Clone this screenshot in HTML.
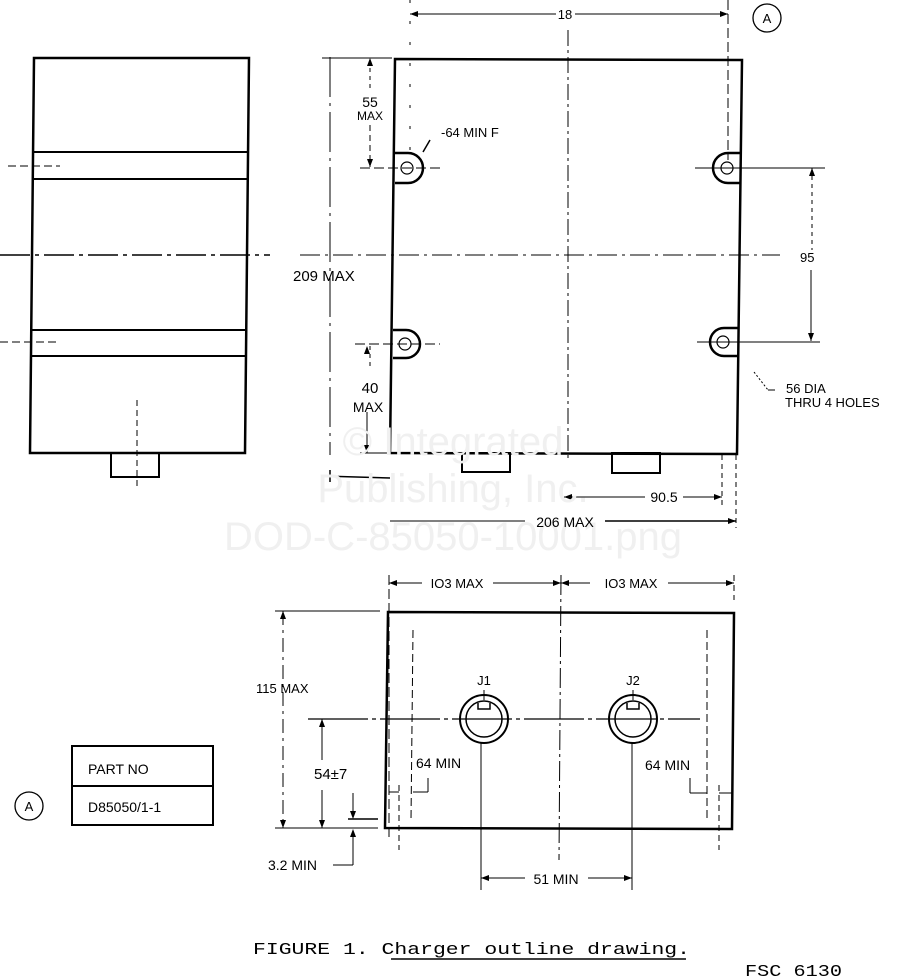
<!DOCTYPE html>
<html><head><meta charset="utf-8"><style>
html,body{margin:0;padding:0;background:#fff;}
svg{display:block;}
text{font-family:"Liberation Sans",sans-serif;fill:#000;}
.m{font-family:"Liberation Mono",monospace;}
</style></head><body>
<svg width="908" height="980" viewBox="0 0 908 980" xmlns="http://www.w3.org/2000/svg">
<g fill="none" stroke="#000">
<!-- LEFT VIEW -->
<path d="M34 58 L249 58 L245 453 L30 453 Z" stroke-width="2.5"/>
<line x1="33" y1="152" x2="248" y2="152" stroke-width="2"/>
<line x1="33" y1="179" x2="248" y2="179" stroke-width="2"/>
<line x1="31" y1="330" x2="246" y2="330" stroke-width="2"/>
<line x1="31" y1="356" x2="246" y2="356" stroke-width="2"/>
<line x1="0" y1="255" x2="270" y2="255" stroke-width="1.5" stroke-dasharray="30 5 4 5"/>
<line x1="8" y1="166" x2="60" y2="166" stroke-width="1" stroke-dasharray="8 4"/>
<line x1="0" y1="342" x2="60" y2="342" stroke-width="1" stroke-dasharray="8 4"/>
<rect x="111" y="453" width="48" height="24" stroke-width="2"/>
<line x1="137" y1="400" x2="137" y2="490" stroke-width="1" stroke-dasharray="6 4"/>

<!-- FRONT VIEW -->
<path d="M395 59 L742 60 L737 454 L390 453 Z" stroke-width="2.5"/>
<line x1="568" y1="30" x2="568" y2="460" stroke-width="1" stroke-dasharray="16 4 3 4"/>
<line x1="300" y1="255" x2="780" y2="255" stroke-width="1" stroke-dasharray="20 5 3 5"/>
<path d="M395 153 L408 153 A15 15 0 0 1 408 183 L395 183" stroke-width="2.5"/>
<circle cx="407" cy="168" r="6" stroke-width="1.2"/>
<path d="M741 153 L728 153 A15 15 0 0 0 728 183 L741 183" stroke-width="2.5"/>
<circle cx="727" cy="168" r="6" stroke-width="1.2"/>
<path d="M393 330 L406 330 A14 14 0 0 1 406 358 L393 358" stroke-width="2.5"/>
<circle cx="405" cy="344" r="6" stroke-width="1.2"/>
<path d="M738 328 L724 328 A14 14 0 0 0 724 356 L738 356" stroke-width="2.5"/>
<circle cx="723" cy="342" r="6" stroke-width="1.2"/>
<line x1="360" y1="168" x2="440" y2="168" stroke-width="1" stroke-dasharray="10 4"/>
<line x1="695" y1="168" x2="825" y2="168" stroke-width="1"/>
<line x1="355" y1="344" x2="440" y2="344" stroke-width="1" stroke-dasharray="10 4"/>
<line x1="697" y1="342" x2="820" y2="342" stroke-width="1"/>
<line x1="728" y1="0" x2="728" y2="160" stroke-width="1" stroke-dasharray="10 4"/>
<line x1="410" y1="0" x2="410" y2="150" stroke-width="1" stroke-dasharray="3 18"/>
<line x1="423" y1="152" x2="430" y2="140" stroke-width="1.5"/>
<rect x="462" y="453" width="48" height="19" stroke-width="2"/>
<rect x="612" y="453" width="48" height="20" stroke-width="2"/>
<line x1="410" y1="14" x2="556" y2="14" stroke-width="1"/>
<line x1="575" y1="14" x2="728" y2="14" stroke-width="1"/>
<line x1="330" y1="57" x2="330" y2="455" stroke-width="1" stroke-dasharray="40 6 3 6"/>
<line x1="322" y1="476" x2="390" y2="478" stroke-width="1.5"/>
<line x1="330" y1="470" x2="330" y2="482" stroke-width="1.5"/>
<line x1="322" y1="58" x2="392" y2="58" stroke-width="1"/>
<line x1="370" y1="60" x2="370" y2="92" stroke-width="1" stroke-dasharray="4 4"/>
<line x1="370" y1="125" x2="370" y2="167" stroke-width="1" stroke-dasharray="6 4"/>
<line x1="370" y1="346" x2="370" y2="370" stroke-width="1" stroke-dasharray="4 4"/>
<line x1="367" y1="412" x2="367" y2="453" stroke-width="1"/>
<line x1="360" y1="453" x2="390" y2="453" stroke-width="1"/>
<line x1="812" y1="168" x2="812" y2="250" stroke-width="1" stroke-dasharray="4 4"/>
<line x1="811" y1="270" x2="811" y2="341" stroke-width="1"/>
<line x1="754" y1="372" x2="768" y2="390" stroke-width="1" stroke-dasharray="2 2"/>
<line x1="768" y1="390" x2="775" y2="390" stroke-width="1"/>
<line x1="564" y1="497" x2="645" y2="497" stroke-width="1"/>
<line x1="683" y1="497" x2="722" y2="497" stroke-width="1"/>
<line x1="722" y1="455" x2="722" y2="505" stroke-width="1" stroke-dasharray="5 4"/>
<line x1="736" y1="455" x2="736" y2="528" stroke-width="1" stroke-dasharray="5 4"/>
<line x1="390" y1="521" x2="525" y2="521" stroke-width="1"/>
<line x1="605" y1="521" x2="736" y2="521" stroke-width="1.5"/>
<circle cx="767" cy="18" r="14" stroke-width="1.3"/>

<!-- BOTTOM VIEW -->
<path d="M388 612 L734 613 L732 829 L385 828 Z" stroke-width="2.5"/>
<line x1="389" y1="575" x2="389" y2="840" stroke-width="1" stroke-dasharray="10 4"/>
<line x1="734" y1="575" x2="734" y2="600" stroke-width="1" stroke-dasharray="6 4"/>
<line x1="561" y1="575" x2="559" y2="860" stroke-width="1" stroke-dasharray="20 4 3 4"/>
<line x1="389" y1="583" x2="422" y2="583" stroke-width="1"/>
<line x1="493" y1="583" x2="590" y2="583" stroke-width="1"/>
<line x1="668" y1="583" x2="734" y2="583" stroke-width="1"/>
<line x1="275" y1="611" x2="380" y2="611" stroke-width="1"/>
<line x1="283" y1="611" x2="283" y2="828" stroke-width="1" stroke-dasharray="14 5 3 5"/>
<line x1="275" y1="828" x2="378" y2="828" stroke-width="1"/>
<line x1="308" y1="719" x2="700" y2="719" stroke-width="1.2" stroke-dasharray="60 4 4 4"/>
<line x1="322" y1="719" x2="322" y2="760" stroke-width="1"/>
<line x1="322" y1="790" x2="322" y2="828" stroke-width="1"/>
<line x1="348" y1="819" x2="378" y2="819" stroke-width="1.5"/>
<line x1="353" y1="793" x2="353" y2="817" stroke-width="1"/>
<line x1="353" y1="831" x2="353" y2="865" stroke-width="1"/>
<line x1="333" y1="865" x2="353" y2="865" stroke-width="1"/>
<circle cx="484" cy="719" r="24" stroke-width="2"/>
<circle cx="484" cy="719" r="18" stroke-width="1.5"/>
<path d="M478 703 L478 709 L490 709 L490 703" stroke-width="1.5"/>
<circle cx="633" cy="719" r="24" stroke-width="2"/>
<circle cx="633" cy="719" r="18" stroke-width="1.5"/>
<path d="M627 703 L627 709 L639 709 L639 703" stroke-width="1.5"/>
<line x1="481" y1="743" x2="481" y2="890" stroke-width="1"/>
<line x1="632" y1="743" x2="632" y2="890" stroke-width="1"/>
<line x1="484" y1="690" x2="484" y2="700" stroke-width="1"/>
<line x1="633" y1="690" x2="633" y2="700" stroke-width="1"/>
<line x1="481" y1="878" x2="525" y2="878" stroke-width="1"/>
<line x1="588" y1="878" x2="632" y2="878" stroke-width="1"/>
<line x1="413" y1="630" x2="411" y2="820" stroke-width="1" stroke-dasharray="8 4"/>
<line x1="399" y1="785" x2="399" y2="850" stroke-width="1" stroke-dasharray="6 4"/>
<line x1="389" y1="792" x2="399" y2="792" stroke-width="1"/>
<line x1="413" y1="792" x2="428" y2="792" stroke-width="1"/>
<line x1="428" y1="778" x2="428" y2="792" stroke-width="1"/>
<line x1="707" y1="630" x2="707" y2="820" stroke-width="1" stroke-dasharray="8 4"/>
<line x1="719" y1="785" x2="719" y2="850" stroke-width="1" stroke-dasharray="6 4"/>
<line x1="690" y1="793" x2="707" y2="793" stroke-width="1"/>
<line x1="690" y1="778" x2="690" y2="793" stroke-width="1"/>
<line x1="719" y1="793" x2="732" y2="793" stroke-width="1"/>

<rect x="72" y="746" width="141" height="79" stroke-width="2"/>
<line x1="72" y1="786" x2="213" y2="786" stroke-width="2"/>
<circle cx="29" cy="806" r="14" stroke-width="1.3"/>
<line x1="391" y1="959" x2="686" y2="959" stroke-width="1.5"/>
</g>
<g fill="#000">
<polygon points="410,14 418,11 418,17"/><polygon points="728,14 720,11 720,17"/>
<polygon points="370,58 367,66 373,66"/><polygon points="370,167 367,159 373,159"/>
<polygon points="367,346 364,354 370,354"/><polygon points="367,453 364,445 370,445"/>
<polygon points="812,168 809,176 815,176"/><polygon points="811,341 808,333 814,333"/>
<polygon points="564,497 572,494 572,500"/><polygon points="722,497 714,494 714,500"/>
<polygon points="736,521 728,518 728,524"/>
<polygon points="389,583 397,580 397,586"/><polygon points="734,583 726,580 726,586"/>
<polygon points="561,583 553,580 553,586"/><polygon points="561,583 569,580 569,586"/>
<polygon points="283,611 280,619 286,619"/><polygon points="283,828 280,820 286,820"/>
<polygon points="322,719 319,727 325,727"/><polygon points="322,828 319,820 325,820"/>
<polygon points="353,819 350,811 356,811"/><polygon points="353,829 350,837 356,837"/>
<polygon points="481,878 489,875 489,881"/><polygon points="632,878 624,875 624,881"/>
</g>
<g font-size="40" text-anchor="middle">
<text x="453" y="455" style="fill:#f0f0f0">© Integrated</text>
<text x="453" y="502" style="fill:#f0f0f0">Publishing, Inc.</text>
<text x="453" y="550" style="fill:#f0f0f0">DOD-C-85050-10001.png</text>
</g>
<g font-size="13">
<text x="565" y="19" text-anchor="middle">18</text>
<text x="767" y="23" text-anchor="middle">A</text>
<text x="370" y="107" text-anchor="middle" font-size="14">55</text>
<text x="370" y="120" text-anchor="middle" font-size="12">MAX</text>
<text x="441" y="137">-64 MIN F</text>
<text x="293" y="281" font-size="15">209 MAX</text>
<text x="800" y="262">95</text>
<text x="370" y="393" text-anchor="middle" font-size="15">40</text>
<text x="368" y="412" text-anchor="middle" font-size="14">MAX</text>
<text x="786" y="393">56 DIA</text>
<text x="785" y="407">THRU 4 HOLES</text>
<text x="664" y="502" text-anchor="middle" font-size="14">90.5</text>
<text x="565" y="527" text-anchor="middle" font-size="14">206 MAX</text>
<text x="457" y="588" text-anchor="middle">IO3 MAX</text>
<text x="631" y="588" text-anchor="middle">IO3 MAX</text>
<text x="256" y="693">115 MAX</text>
<text x="484" y="685" text-anchor="middle">J1</text>
<text x="633" y="685" text-anchor="middle">J2</text>
<text x="314" y="779" font-size="15">54±7</text>
<text x="416" y="768" font-size="14">64 MIN</text>
<text x="645" y="770" font-size="14">64 MIN</text>
<text x="268" y="870" font-size="14">3.2 MIN</text>
<text x="556" y="884" text-anchor="middle" font-size="14">51 MIN</text>
<text x="88" y="774" font-size="14">PART NO</text>
<text x="88" y="812" font-size="14">D85050/1-1</text>
<text x="29" y="811" text-anchor="middle">A</text>
<text x="253" y="954" class="m" font-size="17" textLength="437" lengthAdjust="spacingAndGlyphs">FIGURE 1.  Charger outline drawing.</text>
<text x="745" y="976" class="m" font-size="17" textLength="97" lengthAdjust="spacingAndGlyphs">FSC 6130</text>
</g>
</svg>
</body></html>
